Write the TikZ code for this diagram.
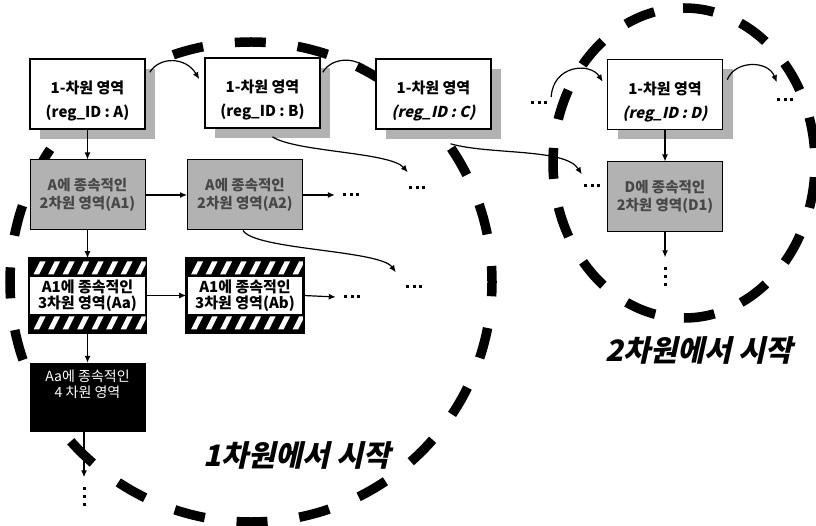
\documentclass[tikz,border=0pt]{standalone}
\usepackage{fontspec}
\setmainfont{Noto Sans CJK KR}
\newfontfamily\slantfont[FakeSlant=0.22]{Noto Sans CJK KR}
\usetikzlibrary{arrows.meta,shadows,calc}
\newcommand\hdotsbox{\rule{3pt}{3pt}\hspace{3.5pt}\rule{3pt}{3pt}\hspace{3.5pt}\rule{3pt}{3pt}}
\newcommand\vdotsbox{\vbox{\offinterlineskip\hbox{\rule{3pt}{3pt}}\kern5pt\hbox{\rule{3pt}{3pt}}\kern5pt\hbox{\rule{3pt}{3pt}}}}
\newcommand\lowtext[1]{\raisebox{-10.5pt}[0pt][0pt]{\begin{tabular}{@{}c@{}}#1\end{tabular}}}
\newcommand\stripeband[3]{%
  \begin{scope}
    \clip (#1,#2) rectangle (#1+116,#3);
    \fill[black] (#1,#2) rectangle (#1+116,#3);
    \foreach \i in {0,...,8}{
      \fill[white] (#1+4+\i*14.5,#3-2.5) -- (#1+9.5+\i*14.5,#3-2.5) -- (#1+16+\i*14.5,#2+2.5) -- (#1+10.5+\i*14.5,#2+2.5) -- cycle;
    }
  \end{scope}}
\begin{document}
\begin{tikzpicture}[x=1pt,y=-1pt,
  wbox/.style={draw=black,line width=1.6pt,fill=white,minimum width=115pt,minimum height=70pt,inner sep=0pt,
    font={\fontsize{15}{24}\selectfont\bfseries},
    general shadow={fill=gray!60,shadow xshift=10pt,shadow yshift=-10pt}},
  gbox/.style={draw=black,line width=1pt,fill=gray!60,text=black!72,minimum width=115pt,minimum height=70pt,align=center,inner sep=0pt,
    font={\fontsize{14.5}{18}\selectfont\bfseries}},
  sbox/.style={draw=black,line width=1.6pt,fill=white,minimum width=116pt,minimum height=73pt,align=center,inner sep=0pt,
    font={\fontsize{15}{16}\selectfont\bfseries}},
  bbox/.style={fill=black,minimum width=116pt,minimum height=69pt,inner sep=0pt},
  arr/.style={line width=1.2pt,-{Latex[length=7pt,width=6pt]}},
  dotsn/.style={inner sep=0pt},
  ring/.style={line width=9.5pt,dash pattern=on 31pt off 32pt},
  ringb/.style={line width=9.5pt,dash pattern=on 31pt off 29pt},
  lbl/.style={font={\slantfont\bfseries\fontsize{29.5}{29.5}\selectfont}}
  ]
\useasboundingbox (0,0) rectangle (816,526);

% dashed rings (behind)
\draw[ring,dash phase=15] (251,282) ellipse [x radius=241pt, y radius=240pt];
\draw[ringb,dash phase=45] (684,163) ellipse [x radius=131pt, y radius=155pt];

% 1-d regions
\node[wbox] (A) at (87.5,94) {\lowtext{1-차원 영역\\(reg\_ID : A)}};
\node[wbox] (B) at (262.5,93) {\lowtext{1-차원 영역\\(reg\_ID : B)}};
\node[wbox] (C) at (433.5,94) {\lowtext{1-차원 영역\\{\slantfont\bfseries (reg\_ID : C)}}};
\node[wbox] (D) at (665,94.5) {\lowtext{1-차원 영역\\{\slantfont\bfseries (reg\_ID : D)}}};

% 2-d regions
\node[gbox] (A1) at (87.5,195) {A에 종속적인\\2차원 영역(A1)};
\node[gbox] (A2) at (245,195) {A에 종속적인\\2차원 영역(A2)};
\node[gbox] (D1) at (665,197) {D에 종속적인\\2차원 영역(D1)};

% 3-d regions
\node[sbox] (Aa) at (87.5,295.5) {A1에 종속적인\\3차원 영역(Aa)};
\node[sbox] (Ab) at (245,295.5) {A1에 종속적인\\3차원 영역(Ab)};
\stripeband{29.5}{259}{277}
\stripeband{29.5}{314}{332}
\stripeband{187}{259}{277}
\stripeband{187}{314}{332}
\draw[line width=1.6pt] (Aa.north west) rectangle (Aa.south east);
\draw[line width=1.6pt] (Ab.north west) rectangle (Ab.south east);

% 4-d region
\node[bbox] (Aa4) at (87.5,397.5) {};
\node[text=white,align=center,inner sep=0pt,font={\fontsize{14}{16}\selectfont}] (Aa4t) at (87.5,384) {Aa에 종속적인\\4 차원 영역};

% dots
\node[dotsn] (dA2) at (351,195) {\hdotsbox};
\node[dotsn] (dAb) at (352,297) {\hdotsbox};
\node[dotsn] (dB) at (417,188) {\hdotsbox};
\node[dotsn] (dA2b) at (414,287) {\hdotsbox};
\node[dotsn] (dC) at (592,186) {\hdotsbox};
\node[dotsn] (dCD) at (539,103) {\hdotsbox};
\node[dotsn] (dD) at (785,100) {\hdotsbox};
\node[dotsn] (v1) at (84,496) {\vdotsbox};
\node[dotsn] (v2) at (665,277) {\vdotsbox};

% straight arrows
\draw[arr] (A.south) -- (A1.north);
\draw[arr] (A1.south) -- (Aa.north);
\draw[arr] (Aa.south) -- (Aa4.north);
\draw[arr] (Aa4.south -| v1) -- ($(v1.north)+(0,-9)$);
\draw[arr] (A1.east) -- (A2.west);
\draw[arr] (Aa.east) -- (Ab.west);
\draw[arr] (A2.east) -- ($(dA2.west)+(-8,0)$);
\draw[arr] (Ab.east) -- ($(dAb.west)+(-8,0)$);
\draw[arr] (D.south) -- (D1.north);
\draw[arr] (D1.south) -- ($(v2.north)+(0,-10)$);

% curved arrows
\draw[arr] ($(A.north east)+(4,14)$) .. controls (160,56) and (186,57) .. ($(B.north west)+(-5,22)$);
\draw[arr] ($(B.north east)+(2,15)$) .. controls (333,55) and (362,57) .. ($(C.north west)+(-3,21)$);
\draw[arr] ($(dCD.east)+(4,-6)$) .. controls (553,65) and (590,62) .. ($(D.north west)+(-4,23)$);
\draw[arr] ($(D.north east)+(4,21)$) .. controls (735,60) and (768,60) .. ($(dD.north west)+(0,-16)$);
\draw[arr] ($(B.south)+(10,8)$) .. controls (295,152) and (390,152) .. ($(dB.north west)+(-1,-14)$);
\draw[arr] ($(A2.south)+(-2,0)$) .. controls (255,250) and (380,250) .. ($(dA2b.north west)+(-10,-13)$);
\draw[arr] ($(C.south)+(17,14)$) .. controls (490,155) and (565,148) .. ($(dC.north west)+(-2,-10)$);

% labels
\node[lbl] (L1) at (297,455) {1차원에서 시작};
\node[lbl] (L2) at (699,350) {2차원에서 시작};
\end{tikzpicture}
\end{document}
